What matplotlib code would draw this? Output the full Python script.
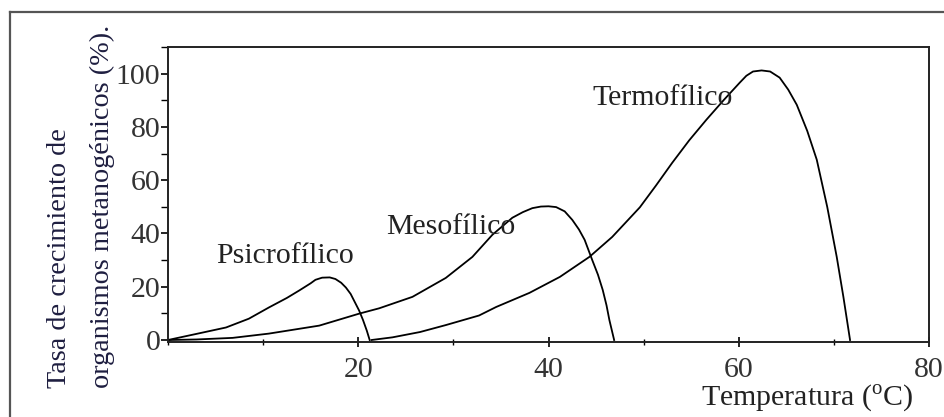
import matplotlib
matplotlib.use("Agg")
import matplotlib.pyplot as plt
from matplotlib.ticker import MultipleLocator
from matplotlib.lines import Line2D

plt.rcParams['font.family'] = ['Liberation Serif', 'DejaVu Serif']
plt.rcParams['mathtext.fontset'] = 'custom'
plt.rcParams['mathtext.rm'] = 'Liberation Serif'

# Data
psicro_x = [0, 3, 6.1, 8.5, 10.6, 12.5, 13.8, 15.0, 15.5, 16.2, 17.0, 17.6, 18.2, 18.7, 19.2,
            19.6, 20.1, 20.5, 20.9, 21.2]
psicro_y = [0, 2.3, 4.7, 8.0, 12.2, 15.8, 18.6, 21.3, 22.6, 23.4, 23.5, 22.9, 21.5, 19.7, 17.3,
            14.5, 11.0, 7.5, 3.5, 0]

meso_x = [0, 3, 6.8, 10.6, 15.9, 20.1, 22.2, 25.7, 29.2, 32.0, 34.1, 36.2, 37.3, 38.3, 39.2,
          40.0, 40.8, 41.7, 42.5, 43.2, 43.8, 44.6, 45.2, 45.7, 46.1, 46.4, 46.9]
meso_y = [0, 0.2, 0.8, 2.4, 5.4, 9.9, 11.9, 16.2, 23.3, 31.2, 39.5, 45.9, 48.0, 49.5, 50.1,
          50.2, 49.9, 48.3, 45.1, 41.5, 37.6, 30.0, 24.5, 18.8, 13.0, 7.5, 0]

termo_x = [21.4, 23.6, 26.5, 29.2, 32.7, 34.5, 38.0, 41.2, 44.3, 46.7, 49.6, 51.3, 53.0, 54.8,
           56.6, 58.4, 60.1, 60.8, 61.5, 62.4, 63.3, 64.3, 65.2, 66.1, 67.2, 68.2, 69.3, 70.3,
           71.0, 71.7]
termo_y = [0, 1.0, 3.0, 5.6, 9.2, 12.4, 17.7, 23.7, 31.2, 38.7, 49.8, 58.0, 66.5, 75.0,
           82.7, 90.0, 96.6, 99.2, 100.8, 101.2, 100.8, 98.5, 94.0, 88.3, 78.5, 67.7, 50.0, 31.2,
           16.2, 0]

labels = ["Psicrofílico", "Mesofílico", "Termofílico"]
label_pos = [(5.1, 31.5), (22.9, 42.5), (44.6, 91)]

x_major = [20, 40, 60, 80]
y_major = [0, 20, 40, 60, 80, 100]

W, H = 944, 417
fig = plt.figure(figsize=(W / 100, H / 100), dpi=100)
ax = fig.add_axes([168 / W, 1 - 342 / H, (929 - 168) / W, (342 - 47) / H])

for xs, ys in [(psicro_x, psicro_y), (meso_x, meso_y), (termo_x, termo_y)]:
    ax.plot(xs, ys, color='black', lw=1.3, solid_joinstyle='round')

for lab, (lx, ly) in zip(labels, label_pos):
    ax.text(lx, ly, lab, fontsize=21.5, color='#222222', ha='left', va='center')

ax.set_xlim(0, 80)
ax.set_ylim(-0.75, 110)
ax.set_xticks(x_major)
ax.set_yticks(y_major)
ax.xaxis.set_minor_locator(MultipleLocator(10))
ax.yaxis.set_minor_locator(MultipleLocator(10))
ax.tick_params(axis='x', which='major', direction='inout', length=7, width=1.2,
               labelsize=21.5, pad=7, labelcolor='#333333')
ax.tick_params(axis='x', which='minor', direction='inout', length=5, width=1.0)
ax.tick_params(axis='y', which='major', direction='out', length=5, width=1.2,
               labelsize=21.5, pad=0.5, labelcolor='#333333')
ax.tick_params(axis='y', which='minor', direction='out', length=5, width=1.0)
for s in ax.spines.values():
    s.set_linewidth(1.4)
    s.set_color('#222222')

# Axis titles
fig.text(913 / W, 1 - 398 / H, r'Temperatura ($^{\mathrm{o}}$C)', fontsize=21.5,
         color='#222222', ha='right', va='center')
fig.text(60 / W, 1 - 388 / H, 'Tasa de crecimiento de', rotation=90, fontsize=20.3,
         color='#1e1e40', ha='center', va='bottom')
fig.text(102 / W, 1 - 388 / H, 'organismos metanogénicos (%).', rotation=90, fontsize=20.3,
         color='#1e1e40', ha='center', va='bottom')

# Outer frame
fig.add_artist(Line2D([10 / W, 10 / W], [0, 1 - 12 / H], transform=fig.transFigure,
                      color='#555555', lw=1.6))
fig.add_artist(Line2D([10 / W, 1], [1 - 12 / H, 1 - 12 / H], transform=fig.transFigure,
                      color='#555555', lw=1.6))

fig.savefig('out.png', dpi=100, facecolor='white')
